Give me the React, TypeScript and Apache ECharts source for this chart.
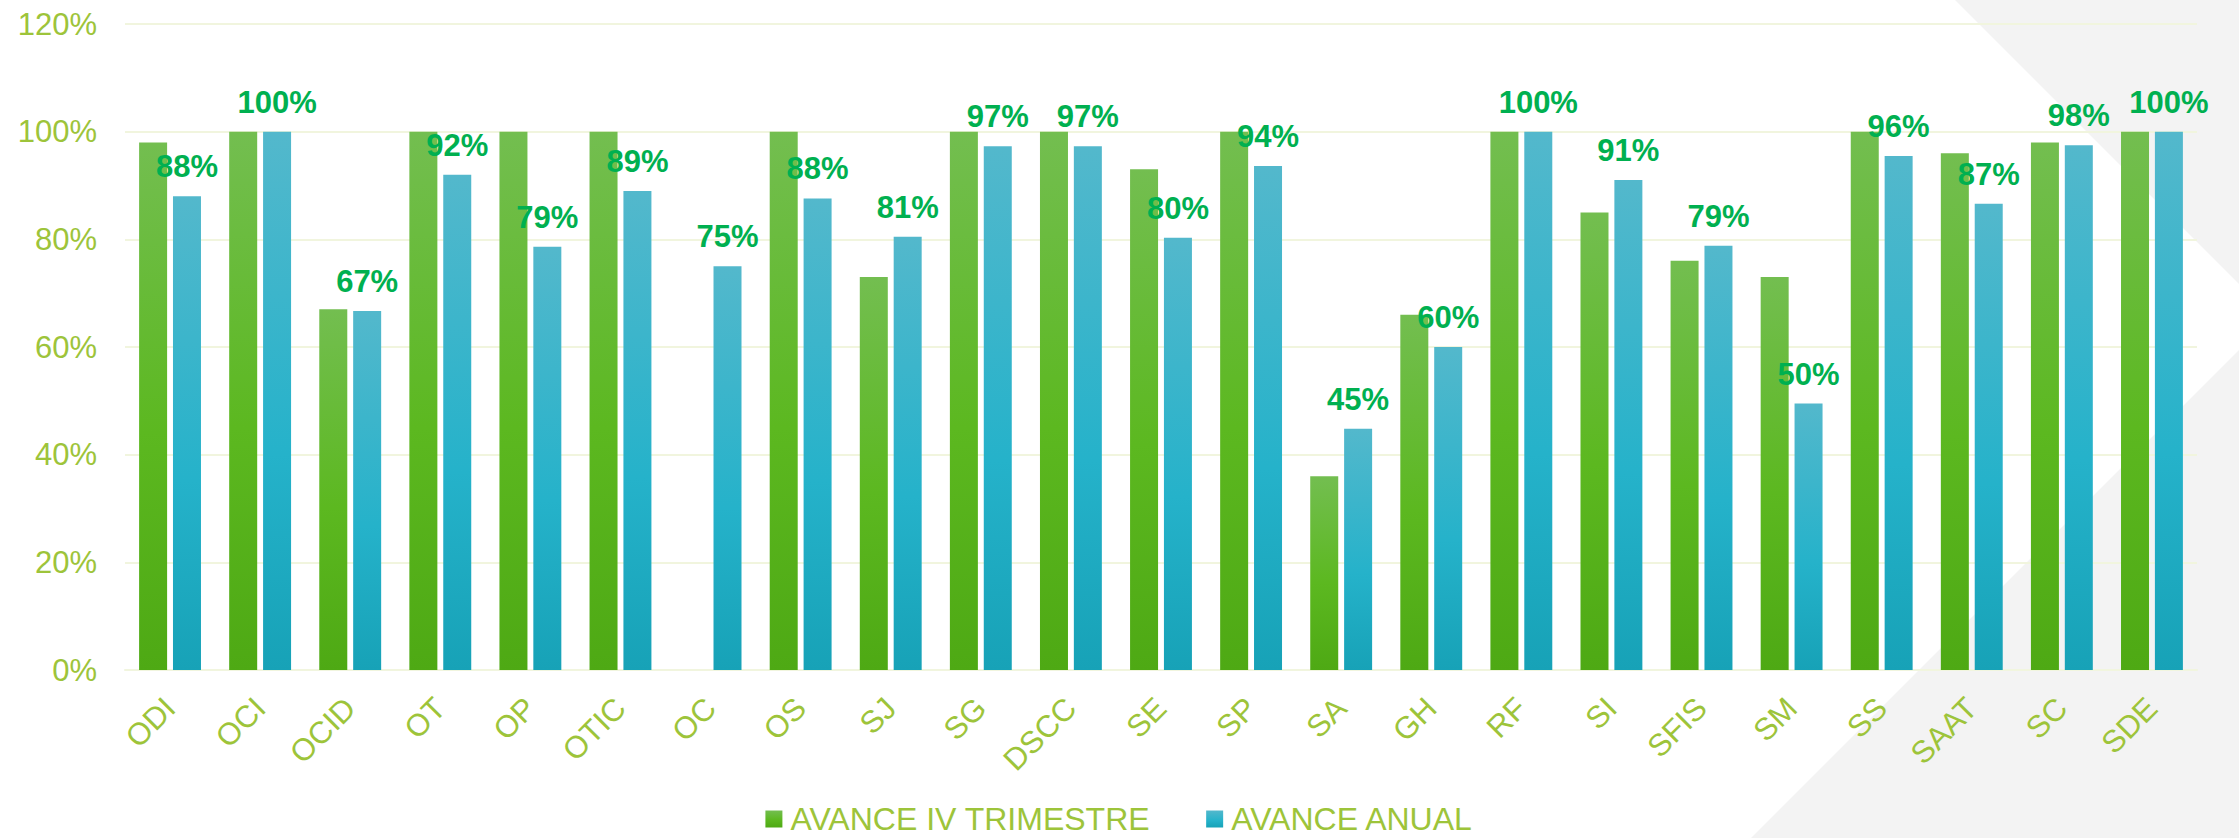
import React, { useEffect, useRef } from "react";
import * as echarts from "echarts";

const categories = ["ODI", "OCI", "OCID", "OT", "OP", "OTIC", "OC", "OS", "SJ", "SG", "DSCC", "SE", "SP", "SA", "GH", "RF", "SI", "SFIS", "SM", "SS", "SAAT", "SC", "SDE"];
const avanceTrimestre = [98, 100, 67, 100, 100, 100, 0, 100, 73, 100, 100, 93, 100, 36, 66, 100, 85, 76, 73, 100, 96, 98, 100];
const avanceAnual = [88, 100, 66.7, 92, 78.6, 89, 75, 87.6, 80.5, 97.3, 97.3, 80.3, 93.6, 44.8, 60, 100, 91, 78.8, 49.5, 95.5, 86.6, 97.5, 100];
const seriesNames = ["AVANCE IV TRIMESTRE", "AVANCE ANUAL"];

const FONT = 'Arial, "Liberation Sans", sans-serif';
const LABEL_COLOR = "#9DC43A";
const GRID_COLOR = "#F1F5DE";

export default function App() {
  const ref = useRef<HTMLDivElement>(null);
  useEffect(() => {
    const chart = echarts.init(ref.current!, null, { renderer: "svg" });
    const greenGrad = new echarts.graphic.LinearGradient(0, 0, 0, 1, [
      { offset: 0, color: "#73BE50" },
      { offset: 0.55, color: "#5CB820" },
      { offset: 1, color: "#4EA914" },
    ]);
    const blueGrad = new echarts.graphic.LinearGradient(0, 0, 0, 1, [
      { offset: 0, color: "#53B8CC" },
      { offset: 0.6, color: "#25B2CA" },
      { offset: 1, color: "#17A2B7" },
    ]);
    chart.setOption({
      animation: false,
      backgroundColor: "#FFFFFF",
      textStyle: { fontFamily: FONT },
      graphic: [
        {
          type: "polygon",
          z: -10,
          silent: true,
          shape: { points: [[1955, 0], [2239, 0], [2239, 284]] },
          style: { fill: "#F3F3F3" },
        },
        {
          type: "polygon",
          z: -10,
          silent: true,
          shape: { points: [[1751, 838], [2239, 350], [2239, 838]] },
          style: { fill: "#F3F3F3" },
        },
      ],
      grid: { left: 125, right: 42, top: 24, bottom: 168, containLabel: false },
      legend: {
        data: seriesNames,
        left: "center",
        top: 803,
        padding: 0,
        itemWidth: 17,
        itemHeight: 17,
        itemGap: 56,
        icon: "rect",
        textStyle: { fontSize: 32, lineHeight: 32, color: LABEL_COLOR, fontFamily: FONT, padding: [0, 0, 0, 3] },
      },
      xAxis: {
        type: "category",
        data: categories,
        axisTick: { show: false },
        axisLine: { show: true, lineStyle: { color: GRID_COLOR, width: 2 } },
        axisLabel: { rotate: 45, interval: 0, fontSize: 31, color: LABEL_COLOR, margin: 33, fontFamily: FONT },
      },
      yAxis: {
        type: "value",
        min: 0,
        max: 120,
        interval: 20,
        axisLine: { show: false },
        axisTick: { show: false },
        splitLine: { lineStyle: { color: GRID_COLOR, width: 2 } },
        axisLabel: { formatter: "{value}%", fontSize: 31, color: LABEL_COLOR, margin: 28, fontFamily: FONT },
      },
      series: [
        {
          name: seriesNames[0],
          type: "bar",
          data: avanceTrimestre,
          barWidth: 28,
          barGap: "21%",
          itemStyle: { color: greenGrad },
        },
        {
          name: seriesNames[1],
          type: "bar",
          data: avanceAnual,
          barWidth: 28,
          itemStyle: { color: blueGrad },
          label: {
            show: true,
            position: "top",
            distance: 14,
            formatter: (p: any) => Math.round(p.value) + "%",
            fontSize: 31,
            fontWeight: "bold",
            color: "#00B050",
            fontFamily: FONT,
          },
        },
      ],
    });
    return () => chart.dispose();
  }, []);
  return <div ref={ref} style={{ position: "fixed", left: 0, top: 0, width: 2239, height: 838 }} />;
}
